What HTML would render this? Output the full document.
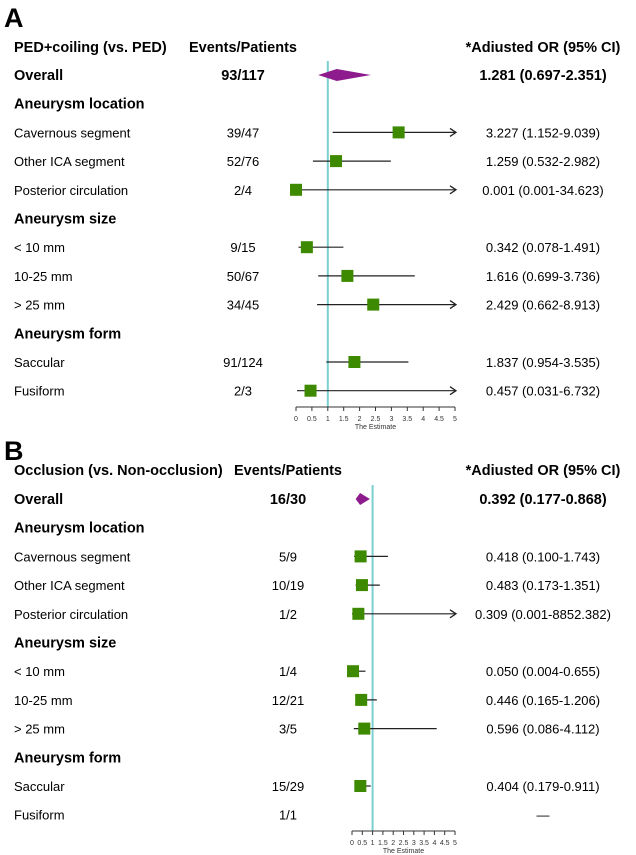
<!DOCTYPE html>
<html><head><meta charset="utf-8"><style>
html,body{margin:0;padding:0;background:#fff;}
svg{display:block;font-family:"Liberation Sans",Arial,sans-serif;}
</style></head><body>
<svg id="c" width="636" height="855" viewBox="0 0 636 855" xmlns="http://www.w3.org/2000/svg">
<text x="4" y="27" font-size="27" font-weight="bold">A</text>
<text x="14" y="52" font-size="14.5" font-weight="bold">PED+coiling (vs. PED)</text>
<text x="243" y="52" font-size="14.5" font-weight="bold" text-anchor="middle">Events/Patients</text>
<text x="543" y="52" font-size="14.5" font-weight="bold" text-anchor="middle">*Adiusted OR (95% CI)</text>
<text x="4" y="460" font-size="27" font-weight="bold">B</text>
<text x="14" y="475" font-size="14.5" font-weight="bold">Occlusion (vs. Non-occlusion)</text>
<text x="288" y="475" font-size="14.5" font-weight="bold" text-anchor="middle">Events/Patients</text>
<text x="543" y="475" font-size="14.5" font-weight="bold" text-anchor="middle">*Adiusted OR (95% CI)</text>
</svg>
<script>
const labelsA = ["Overall","Aneurysm location","Cavernous segment","Other ICA segment","Posterior circulation","Aneurysm size","< 10 mm","10-25 mm","> 25 mm","Aneurysm form","Saccular","Fusiform"];
const eventsA = ["93/117","","39/47","52/76","2/4","","9/15","50/67","34/45","","91/124","2/3"];
const estA = [1.281,null,3.227,1.259,0.001,null,0.342,1.616,2.429,null,1.837,0.457];
const lowA = [0.697,null,1.152,0.532,0.001,null,0.078,0.699,0.662,null,0.954,0.031];
const highA = [2.351,null,9.039,2.982,34.623,null,1.491,3.736,8.913,null,3.535,6.732];
const orTextA = ["1.281 (0.697-2.351)","","3.227 (1.152-9.039)","1.259 (0.532-2.982)","0.001 (0.001-34.623)","","0.342 (0.078-1.491)","1.616 (0.699-3.736)","2.429 (0.662-8.913)","","1.837 (0.954-3.535)","0.457 (0.031-6.732)"];

const labelsB = ["Overall","Aneurysm location","Cavernous segment","Other ICA segment","Posterior circulation","Aneurysm size","< 10 mm","10-25 mm","> 25 mm","Aneurysm form","Saccular","Fusiform"];
const eventsB = ["16/30","","5/9","10/19","1/2","","1/4","12/21","3/5","","15/29","1/1"];
const estB = [0.392,null,0.418,0.483,0.309,null,0.050,0.446,0.596,null,0.404,null];
const lowB = [0.177,null,0.100,0.173,0.001,null,0.004,0.165,0.086,null,0.179,null];
const highB = [0.868,null,1.743,1.351,8852.382,null,0.655,1.206,4.112,null,0.911,null];
const orTextB = ["0.392 (0.177-0.868)","","0.418 (0.100-1.743)","0.483 (0.173-1.351)","0.309 (0.001-8852.382)","","0.050 (0.004-0.655)","0.446 (0.165-1.206)","0.596 (0.086-4.112)","","0.404 (0.179-0.911)","—"];

const ticks = ["0","0.5","1","1.5","2","2.5","3","3.5","4","4.5","5"];
const headerRows = [1,5,9];
const NS = "http://www.w3.org/2000/svg";
const svg = document.getElementById("c");
function mk(tag, attrs, parent){const e=document.createElementNS(NS,tag);for(const k in attrs)e.setAttribute(k,attrs[k]);(parent||svg).appendChild(e);return e;}

function panel(p){
  const g = mk("g",{});
  
  
  const xs = v => p.x0 + (Math.min(v,5)) * (p.x5 - p.x0) / 5;
  const ys = i => p.y0 + i * p.dy;
  // reference line
  const rl = mk("line",{x1:xs(1),x2:xs(1),y1:p.refTop,y2:p.axisY,stroke:"#7ccfd0","stroke-width":2},g);
  
  
  p.labels.forEach((lab,i)=>{
    const y = ys(i);
    const bold = i===0 || headerRows.includes(i);
    const t = mk("text",{x:14,y:y+5,"font-size":bold?14.5:13,"font-weight":bold?"bold":"normal"},g);
    t.textContent = lab;
    
    
    if(p.events[i]){
      const e = mk("text",{x:p.evX,y:y+5,"font-size":i===0?14.5:13,"font-weight":i===0?"bold":"normal","text-anchor":"middle"},g);
      e.textContent = p.events[i];
      
      
    }
    if(p.orText[i]){
      const o = mk("text",{x:543,y:y+5,"font-size":i===0?14.5:13,"font-weight":i===0?"bold":"normal","text-anchor":"middle"},g);
      o.textContent = p.orText[i];
      
      
    }
    const est = p.est[i];
    if(est===null) return;
    if(i===0){
      const d = mk("polygon",{points:`${xs(p.low[i])},${y} ${xs(est)},${y-6} ${xs(p.high[i])},${y} ${xs(est)},${y+6}`,fill:"#8e1b8e"},g);
      
      
      return;
    }
    const arrow = p.high[i] > 5;
    const x2 = arrow ? xs(5)+1 : xs(p.high[i]);
    const l = mk("line",{x1:xs(p.low[i]),x2:x2,y1:y,y2:y,stroke:"#222","stroke-width":1.2},g);
    
    
    if(arrow){
      const a = mk("polyline",{points:`${x2-6},${y-4} ${x2},${y} ${x2-6},${y+4}`,fill:"none",stroke:"#222","stroke-width":1.3},g);
      
      
    }
    const s = mk("rect",{x:xs(est)-6,y:y-6,width:12,height:12,fill:"#3d8a00"},g);
    
    
  });
  // axis
  const ax = mk("line",{x1:xs(0),x2:xs(5),y1:p.axisY,y2:p.axisY,stroke:"#333","stroke-width":1},g);
  
  
  ticks.forEach(tk=>{
    const v = parseFloat(tk);
    mk("line",{x1:xs(v),x2:xs(v),y1:p.axisY,y2:p.axisY+4,stroke:"#333","stroke-width":1},g);
    const t = mk("text",{x:xs(v),y:p.axisY+14,"font-size":7,"text-anchor":"middle",fill:"#333"},g);
    t.textContent = tk;
    
    
  });
  const at = mk("text",{x:(xs(0)+xs(5))/2,y:p.axisY+22,"font-size":7,"text-anchor":"middle",fill:"#333"},g);
  at.textContent = "The Estimate";
  
  
}
panel({id:"panel-a",labels:labelsA,events:eventsA,est:estA,low:lowA,high:highA,orText:orTextA,x0:296,x5:455,y0:75,dy:28.7,axisY:407,refTop:61,evX:243});
panel({id:"panel-b",labels:labelsB,events:eventsB,est:estB,low:lowB,high:highB,orText:orTextB,x0:352,x5:455,y0:499,dy:28.7,axisY:831,refTop:485,evX:288});
</script>
</body></html>
